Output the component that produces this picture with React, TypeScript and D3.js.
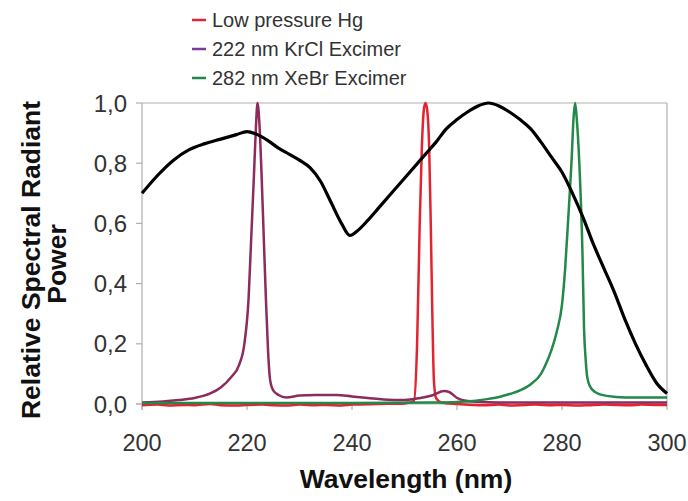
import React from "react";
import * as d3 from "d3";

// ---- Data ----
const lampWl = [200, 203, 206, 209, 212, 215, 218, 220, 222, 224, 226, 228, 230, 232, 234, 236, 238, 239.6, 241, 243, 245, 248, 251, 254, 256, 258, 260, 262, 264, 266, 268, 270, 272, 274, 276, 278, 280, 282, 284, 286, 288, 290, 292, 294, 296, 298, 300];
const lampVal = [0.70, 0.76, 0.81, 0.845, 0.865, 0.88, 0.895, 0.905, 0.895, 0.875, 0.85, 0.83, 0.81, 0.785, 0.74, 0.67, 0.6, 0.56, 0.575, 0.61, 0.65, 0.71, 0.77, 0.83, 0.87, 0.915, 0.945, 0.97, 0.99, 1.0, 0.99, 0.97, 0.945, 0.915, 0.87, 0.82, 0.77, 0.7, 0.62, 0.53, 0.45, 0.37, 0.28, 0.2, 0.13, 0.07, 0.035];

const hgWl = [200, 203, 205, 208, 210, 213, 215, 218, 220, 223, 225, 228, 230, 233, 235, 238, 240, 245, 250, 251.8, 252.4, 252.9, 253.3, 253.7, 254, 254.3, 254.7, 255, 255.3, 255.6, 256, 257, 260, 263, 265, 268, 270, 273, 275, 278, 280, 283, 285, 288, 290, 293, 295, 298, 300];
const hgVal = [-0.004, -0.002, -0.005, -0.003, -0.004, 0.0, -0.004, -0.005, -0.003, -0.002, -0.004, -0.005, -0.002, -0.004, -0.003, -0.005, -0.002, 0.0, 0.002, 0.01, 0.2, 0.6, 0.85, 0.98, 1.0, 0.98, 0.85, 0.6, 0.3, 0.08, 0.02, 0.005, 0.0, -0.003, -0.004, -0.002, -0.005, -0.003, -0.002, -0.004, -0.003, -0.005, -0.004, -0.002, -0.003, -0.004, -0.002, -0.003, -0.003];

const krclWl = [200, 204, 207, 210, 213, 215, 217, 218.5, 219.5, 220.3, 220.8, 221.3, 221.7, 222, 222.4, 222.8, 223.2, 223.6, 224, 224.4, 225, 226, 227.5, 230, 233, 237, 240, 243, 246, 250, 253, 255.5, 257.5, 258.5, 260, 262, 266, 270, 280, 290, 300];
const krclVal = [0.005, 0.008, 0.013, 0.02, 0.035, 0.055, 0.09, 0.13, 0.2, 0.35, 0.55, 0.75, 0.92, 1.0, 0.92, 0.75, 0.55, 0.35, 0.18, 0.08, 0.045, 0.03, 0.022, 0.028, 0.03, 0.03, 0.025, 0.02, 0.015, 0.013, 0.02, 0.03, 0.043, 0.04, 0.02, 0.01, 0.006, 0.005, 0.005, 0.005, 0.005];

const xebrWl = [200, 220, 240, 255, 260, 263, 266, 268, 270, 272, 274, 276, 277, 278, 279, 280, 280.6, 281.2, 281.8, 282.2, 282.5, 282.8, 283.3, 283.9, 284.2, 284.5, 284.8, 285.3, 286.3, 288.5, 292, 296, 300];
const xebrVal = [0.003, 0.003, 0.003, 0.005, 0.007, 0.01, 0.017, 0.023, 0.033, 0.045, 0.065, 0.1, 0.135, 0.18, 0.24, 0.33, 0.45, 0.62, 0.8, 0.95, 1.0, 0.95, 0.8, 0.5, 0.25, 0.15, 0.09, 0.06, 0.04, 0.027, 0.022, 0.022, 0.022];

const xTicks = [200, 220, 240, 260, 280, 300];
const yTicks = [0, 0.2, 0.4, 0.6, 0.8, 1.0];
const legendLabels = ["Low pressure Hg", "222 nm KrCl Excimer", "282 nm XeBr Excimer"];
const legendColors = ["#e32430", "#7b3a9c", "#22894a"];

export default function App() {
  const W = 688, H = 501;
  const left = 142, right = 667, top = 103, bottom = 404;
  const x = d3.scaleLinear().domain([200, 300]).range([left, right]);
  const y = d3.scaleLinear().domain([0, 1]).range([bottom, top]);
  const line = d3
    .line<[number, number]>()
    .x((d) => x(d[0]))
    .y((d) => y(d[1]))
    .curve(d3.curveMonotoneX);
  const zip = (a: number[], b: number[]) => a.map((v, i) => [v, b[i]] as [number, number]);
  const font = "Liberation Sans, Arial, sans-serif";
  const fmt = (v: number) => v.toFixed(1).replace(".", ",");
  const axisColor = "#b4aeae";

  return (
    <svg width={W} height={H} style={{ position: "absolute", left: 0, top: 0, background: "#fff" }} fontFamily={font}>
      {/* frame */}
      <line x1={left} x2={right} y1={top} y2={top} stroke={axisColor} strokeWidth={1.2} />
      <line x1={right} x2={right} y1={top} y2={bottom} stroke={axisColor} strokeWidth={1.2} />
      <line x1={left} x2={left} y1={top} y2={bottom + 6} stroke={axisColor} strokeWidth={1.2} />
      <line x1={left - 6} x2={right} y1={bottom} y2={bottom} stroke={axisColor} strokeWidth={1.2} />
      {yTicks.map((t) => (
        <g key={"y" + t}>
          <line x1={left - 6} x2={left} y1={y(t)} y2={y(t)} stroke={axisColor} strokeWidth={1.2} />
          <text x={left - 15} y={y(t)} dy="0.36em" textAnchor="end" fontSize={24} fill="#333">
            {fmt(t)}
          </text>
        </g>
      ))}
      {xTicks.map((t) => (
        <g key={"x" + t}>
          <line x1={x(t)} x2={x(t)} y1={bottom} y2={bottom + 6} stroke={axisColor} strokeWidth={1.2} />
          <text x={x(t)} y={451} textAnchor="middle" fontSize={23.5} fill="#333">
            {t}
          </text>
        </g>
      ))}
      {/* series */}
      <path d={line(zip(hgWl, hgVal)) || ""} fill="none" stroke="#e32430" strokeWidth={2.5} />
      <path d={line(zip(krclWl, krclVal)) || ""} fill="none" stroke="#8c2b5c" strokeWidth={2.5} />
      <path d={line(zip(xebrWl, xebrVal)) || ""} fill="none" stroke="#22894a" strokeWidth={2.5} />
      <path d={line(zip(lampWl, lampVal)) || ""} fill="none" stroke="#000" strokeWidth={3.2} strokeLinejoin="round" />
      {/* axis titles */}
      <text x={406} y={488} textAnchor="middle" fontSize={26.5} fontWeight="bold" fill="#111">
        Wavelength (nm)
      </text>
      <text transform="translate(40,260) rotate(-90)" textAnchor="middle" fontSize={26.5} fontWeight="bold" fill="#111">
        Relative Spectral Radiant
      </text>
      <text transform="translate(66,264) rotate(-90)" textAnchor="middle" fontSize={26.5} fontWeight="bold" fill="#111">
        Power
      </text>
      {/* legend */}
      {legendLabels.map((l, i) => (
        <g key={l}>
          <line x1={192} x2={206} y1={20 + i * 29} y2={20 + i * 29} stroke={legendColors[i]} strokeWidth={2.5} />
          <text x={212} y={27 + i * 29} fontSize={20} fill="#333">
            {l}
          </text>
        </g>
      ))}
    </svg>
  );
}
